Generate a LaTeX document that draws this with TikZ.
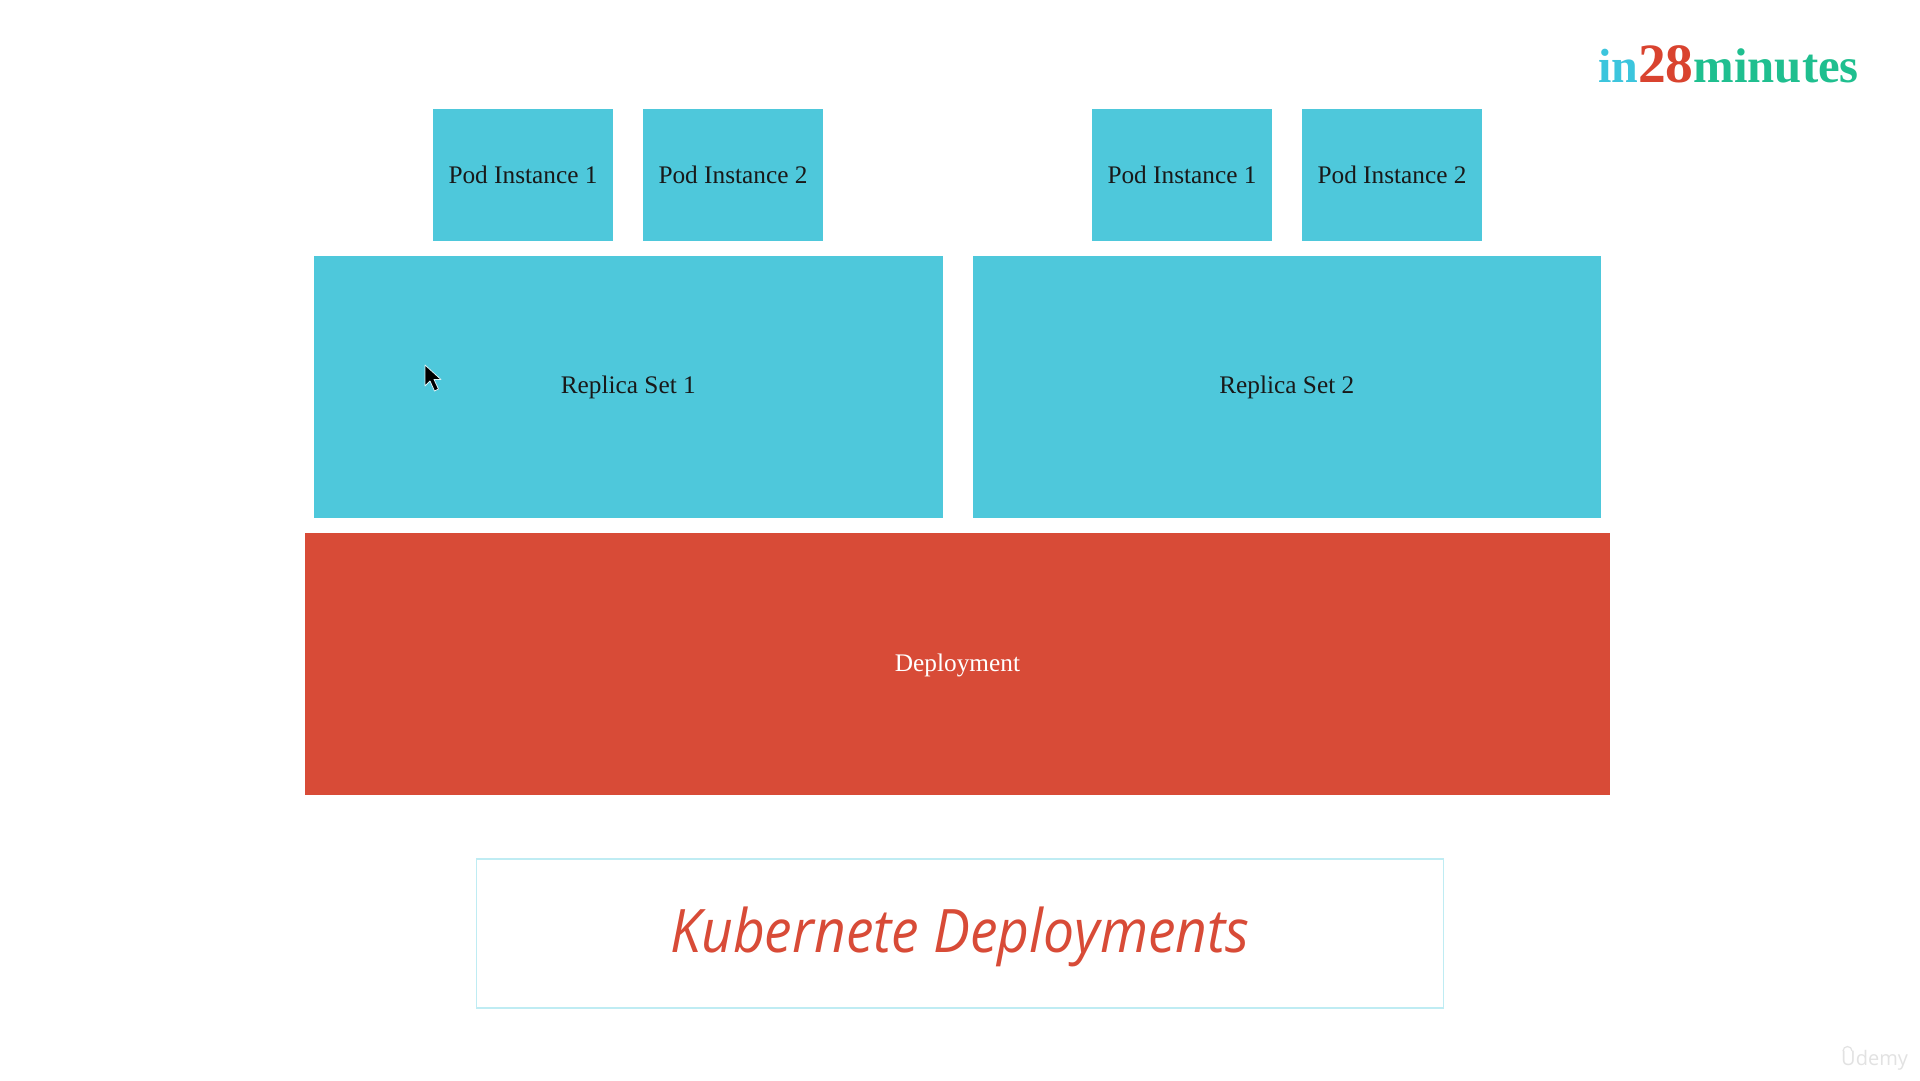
\documentclass[tikz,border=0pt]{standalone}
\usepackage{fontspec}
\setmainfont{Liberation Serif}
\newfontfamily\titlefont{Open Sans}
\newfontfamily\titlenarrow[FakeStretch=0.92]{Open Sans}
\definecolor{boxcyan}{HTML}{4EC8DB}
\definecolor{boxred}{HTML}{D84B37}
\definecolor{framecyan}{HTML}{BFECF3}
\definecolor{logocyan}{HTML}{3CC5DD}
\definecolor{logored}{HTML}{D9432F}
\definecolor{logogreen}{HTML}{1FBF8F}
\definecolor{markgray}{HTML}{E2E2E2}
\tikzset{
  x=1pt,y=-1pt,
  blocktext/.style={inner sep=0pt,font=\fontsize{25.3}{28}\selectfont,text=black!90},
  block/.style={rectangle,inner sep=0pt,outer sep=0pt,draw=none,blocktext},
  podbox/.style={block,fill=boxcyan,minimum width=180pt,minimum height=132pt},
  replicabox/.style={block,fill=boxcyan,minimum width=628.5pt,minimum height=262pt},
  deploybox/.style={block,fill=boxred,minimum width=1305pt,minimum height=262pt},
  titlebox/.style={rectangle,inner sep=0pt,draw=framecyan,line width=1.6pt,minimum width=967pt,minimum height=149pt}
}
\begin{document}
\begin{tikzpicture}
\useasboundingbox (0,0) rectangle (1920,1080);
\fill[white] (0,0) rectangle (1920,1080);
\node[podbox] (p11) at (523,175) {Pod Instance 1};
\node[podbox] (p12) at (733,175) {Pod Instance 2};
\node[podbox] (p21) at (1182,175) {Pod Instance 1};
\node[podbox] (p22) at (1392,175) {Pod Instance 2};
\node[replicabox,label={[blocktext,yshift=-0.8pt]center:Replica Set 1}] (rs1) at (628.3,387) {};
\node[replicabox,label={[blocktext,yshift=-0.8pt]center:Replica Set 2}] (rs2) at (1286.8,387) {};
\node[deploybox,label={[blocktext,text=white,yshift=-1.4pt]center:Deployment}] (dep) at (957.5,664) {};
\node[titlebox,label={[inner sep=0pt,yshift=-3.8pt,text=boxred,font=\titlenarrow\itshape\fontsize{60}{70}\selectfont]center:Kubernete Deployments}] (title) at (960,933.5) {};
\node[anchor=base west,inner sep=0pt,font=\bfseries\fontsize{48}{56}\selectfont] (logo) at (1598,82)
  {\textcolor{logocyan}{in}\textcolor{logored}{\fontsize{55.5}{56}\selectfont 28}\textcolor{logogreen}{\fontsize{48.7}{56}\selectfont minutes}};
\node[anchor=base west,inner sep=0pt,text=markgray,font=\titlefont\fontsize{20}{24}\selectfont] (mark) at (1841,1065) {Udemy};
\draw[markgray,line width=1.2pt] (1843,1051) arc[start angle=180,end angle=0,radius=4.5pt];
\draw[black,fill=black,line width=0.8pt,line join=round,draw=white!80!boxcyan]
  (425,365) -- (425,386) -- (430,381) -- (434.5,391) -- (438.5,389) -- (434,379.5) -- (441,379.5) -- cycle;
\end{tikzpicture}
\end{document}
